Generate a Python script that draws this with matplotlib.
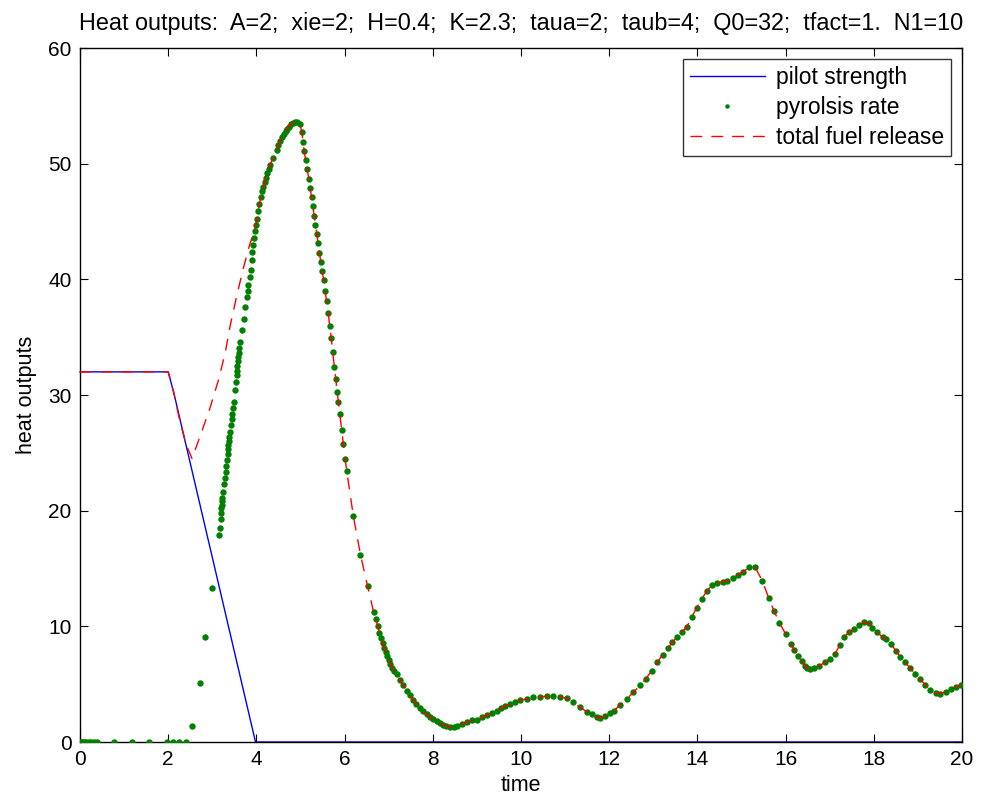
import numpy as np
import matplotlib
matplotlib.use("Agg")
import matplotlib.pyplot as plt

plt.rcParams['font.family'] = ['Liberation Sans', 'DejaVu Sans']

# pilot strength (corner points of the ramp)
pilot_t = [0, 2.0, 2.12, 3.98, 20]
pilot_q = [32, 32, 30.3, 0, 0]

# pyrolysis rate, solver output points
pyro_t = [0.015, 0.045, 0.075, 0.11, 0.14, 0.2, 0.26, 0.32, 0.39, 0.78, 1.17, 1.56, 1.97, 2.12, 2.25, 2.40,
          2.55, 2.71, 2.84, 2.99, 3.145, 3.17, 3.19, 3.20, 3.205, 3.21, 3.215, 3.22, 3.24, 3.27, 3.29,
          3.30, 3.32, 3.33, 3.345, 3.355, 3.365, 3.375, 3.385, 3.395, 3.42, 3.44, 3.45, 3.47, 3.49,
          3.51, 3.53, 3.55, 3.56, 3.57, 3.58, 3.59, 3.60, 3.61, 3.63, 3.68, 3.72, 3.75, 3.78, 3.80,
          3.82, 3.85, 3.87, 3.89, 3.91, 3.93, 3.95, 3.97, 3.99, 4.01, 4.04, 4.07, 4.10, 4.13, 4.16,
          4.19, 4.22, 4.25, 4.28, 4.31, 4.38, 4.46, 4.50, 4.54, 4.58, 4.62, 4.66, 4.69, 4.73, 4.78,
          4.83, 4.88, 4.93, 4.99, 5.03, 5.06, 5.08, 5.12, 5.15, 5.19, 5.22, 5.25, 5.28, 5.31, 5.34,
          5.37, 5.40, 5.43, 5.46, 5.49, 5.53, 5.56, 5.59, 5.63, 5.66, 5.70, 5.73, 5.77, 5.80, 5.83,
          5.86, 5.89, 5.93, 5.97, 6.01, 6.05, 6.20, 6.36, 6.52, 6.66, 6.71, 6.75, 6.79, 6.83, 6.86,
          6.90, 6.93, 6.97, 7.01, 7.04, 7.08, 7.13, 7.18, 7.26, 7.33, 7.41, 7.48, 7.56, 7.63, 7.71,
          7.78, 7.86, 7.94, 8.01, 8.09, 8.16, 8.24, 8.31, 8.39, 8.47, 8.54, 8.66, 8.77, 8.88, 9.00,
          9.11, 9.22, 9.34, 9.45, 9.54, 9.64, 9.75, 9.86, 9.98, 10.13, 10.28, 10.43, 10.58, 10.73,
          10.88, 11.04, 11.19, 11.34, 11.49, 11.60, 11.72, 11.79, 11.90, 12.02, 12.11, 12.24, 12.40,
          12.55, 12.70, 12.83, 12.96, 13.09, 13.21, 13.33, 13.43, 13.54, 13.65, 13.76, 13.87, 13.98,
          14.10, 14.21, 14.33, 14.45, 14.57, 14.68, 14.80, 14.91, 15.03, 15.18, 15.31, 15.47, 15.62,
          15.74, 15.86, 16.00, 16.12, 16.20, 16.29, 16.38, 16.43, 16.48, 16.55, 16.64, 16.76, 16.89,
          17.00, 17.12, 17.23, 17.33, 17.44, 17.55, 17.67, 17.78, 17.88, 17.97, 18.08, 18.20, 18.28,
          18.39, 18.50, 18.60, 18.71, 18.83, 18.94, 19.05, 19.17, 19.28, 19.40, 19.51, 19.63, 19.74,
          19.86, 19.97]
pyro_q = [0, 0, 0, 0, 0, 0, 0, 0, 0, 0, 0, 0, 0, 0, 0, 0,
          1.38, 5.13, 9.1, 13.3, 17.9, 18.5, 19.3, 19.8, 20.2, 20.5, 20.8, 21.1, 21.6, 22.3, 22.8,
          23.3, 23.9, 24.4, 24.9, 25.3, 25.7, 26.0, 26.4, 26.8, 27.4, 27.9, 28.4, 28.9, 29.4,
          30.4, 31.1, 31.7, 32.1, 32.5, 32.9, 33.3, 33.6, 34.1, 34.6, 35.6, 36.6, 37.6, 38.5, 39.0,
          39.5, 40.2, 40.8, 41.7, 42.4, 43.0, 43.6, 44.2, 44.7, 45.2, 45.9, 46.5, 47.1, 47.6, 48.0,
          48.4, 48.8, 49.2, 49.5, 49.9, 50.5, 51.2, 51.6, 52.0, 52.3, 52.6, 52.8, 53.0, 53.2, 53.4,
          53.5, 53.6, 53.6, 53.4, 52.7, 51.9, 51.1, 50.3, 49.5, 48.7, 47.9, 47.1, 46.3, 45.5, 44.7,
          43.9, 43.1, 42.3, 41.5, 40.7, 39.9, 39.0, 38.1, 37.1, 36.0, 34.9, 33.7, 32.4, 31.4, 30.3,
          29.4, 28.4, 27.0, 25.8, 24.5, 23.4, 19.5, 16.2, 13.5, 11.2, 10.6, 10.0, 9.45, 8.96, 8.53,
          8.15, 7.81, 7.43, 7.09, 6.74, 6.42, 6.14, 5.88, 5.36, 4.90, 4.44, 4.03, 3.63, 3.29, 2.97,
          2.65, 2.39, 2.16, 1.96, 1.79, 1.64, 1.50, 1.38, 1.30, 1.27, 1.38, 1.56, 1.73, 1.90, 1.93,
          2.13, 2.33, 2.53, 2.71, 2.91, 3.11, 3.26, 3.46, 3.60, 3.74, 3.86, 3.92, 3.95, 3.95,
          3.92, 3.77, 3.43, 3.00, 2.62, 2.39, 2.19, 2.05, 2.25, 2.53, 2.71, 3.17, 3.74,
          4.29, 4.90, 5.45, 6.16, 6.89, 7.55, 8.10, 8.62, 9.08, 9.51, 9.97, 10.78, 11.58,
          12.36, 13.05, 13.55, 13.72, 13.86, 13.95, 14.18, 14.46, 14.70, 15.10, 15.10, 13.95, 12.42,
          11.30, 10.31, 9.34, 8.47, 7.93, 7.41, 6.97, 6.57, 6.37, 6.28, 6.37, 6.57, 6.89,
          7.15, 7.61, 8.39, 9.05, 9.51, 9.77, 10.09, 10.37, 10.26, 9.88, 9.48, 9.05, 8.87,
          8.47, 7.89, 7.38, 6.89, 6.37, 5.88, 5.42, 4.93, 4.50, 4.21, 4.18, 4.35, 4.55,
          4.75, 4.95]

# total fuel release before the pilot dies out (after that it equals the pyrolysis rate)
total_early_t = [0, 2.0, 2.12, 2.25, 2.40, 2.54, 2.72, 2.95, 3.14, 3.29, 3.40, 3.55, 3.70, 3.84, 3.97]
total_early_q = [32, 32, 30.3, 28.0, 25.8, 24.5, 26.4, 28.9, 31.3, 33.6, 35.9, 38.5, 40.9, 42.9, 44.4]

pyro_t = np.array(pyro_t)
pyro_q = np.array(pyro_q)
late = pyro_t > 4.0
total_t = np.concatenate([total_early_t, pyro_t[late]])
total_q = np.concatenate([total_early_q, pyro_q[late]])

fig = plt.figure(figsize=(9.87, 8.05), dpi=100)
ax = fig.add_axes([80 / 987, 63 / 805, 882 / 987, 694 / 805])

ax.plot(pilot_t, pilot_q, color='blue', lw=1.0, label='pilot strength', clip_on=False, zorder=2)
ax.plot(pyro_t, pyro_q, ls='none', marker='o', ms=4.6, mec='none', color=(0, 0.5, 0),
        label='pyrolsis rate', zorder=3)
ax.plot(total_t, total_q, color='red', lw=1.0, dashes=(8.5, 6.5), label='total fuel release', zorder=4)

ax.set_xlim(0, 20)
ax.set_ylim(0, 60)
ax.set_xticks(range(0, 21, 2))
ax.set_yticks(range(0, 61, 10))
ax.tick_params(direction='in', top=True, right=True, labelsize=15, length=6, width=0.8, pad=6)
for s in ax.spines.values():
    s.set_linewidth(1.0)

ax.set_xlabel('time', fontsize=15.5, labelpad=4)
ax.set_ylabel('heat outputs', fontsize=15.5, labelpad=8)
ax.set_title('Heat outputs:  A=2;  xie=2;  H=0.4;  K=2.3;  taua=2;  taub=4;  Q0=32;  tfact=1.  N1=10',
             fontsize=16.8, pad=13)

leg = ax.legend(loc='upper right', fontsize=16.5, numpoints=1, handlelength=3.3, frameon=True,
                fancybox=False, borderpad=0.3, labelspacing=0.3, handletextpad=0.45,
                borderaxespad=0.5, markerscale=0.7)
leg.get_frame().set_edgecolor('black')
leg.get_frame().set_linewidth(1.0)

fig.savefig('out.png', dpi=100)
